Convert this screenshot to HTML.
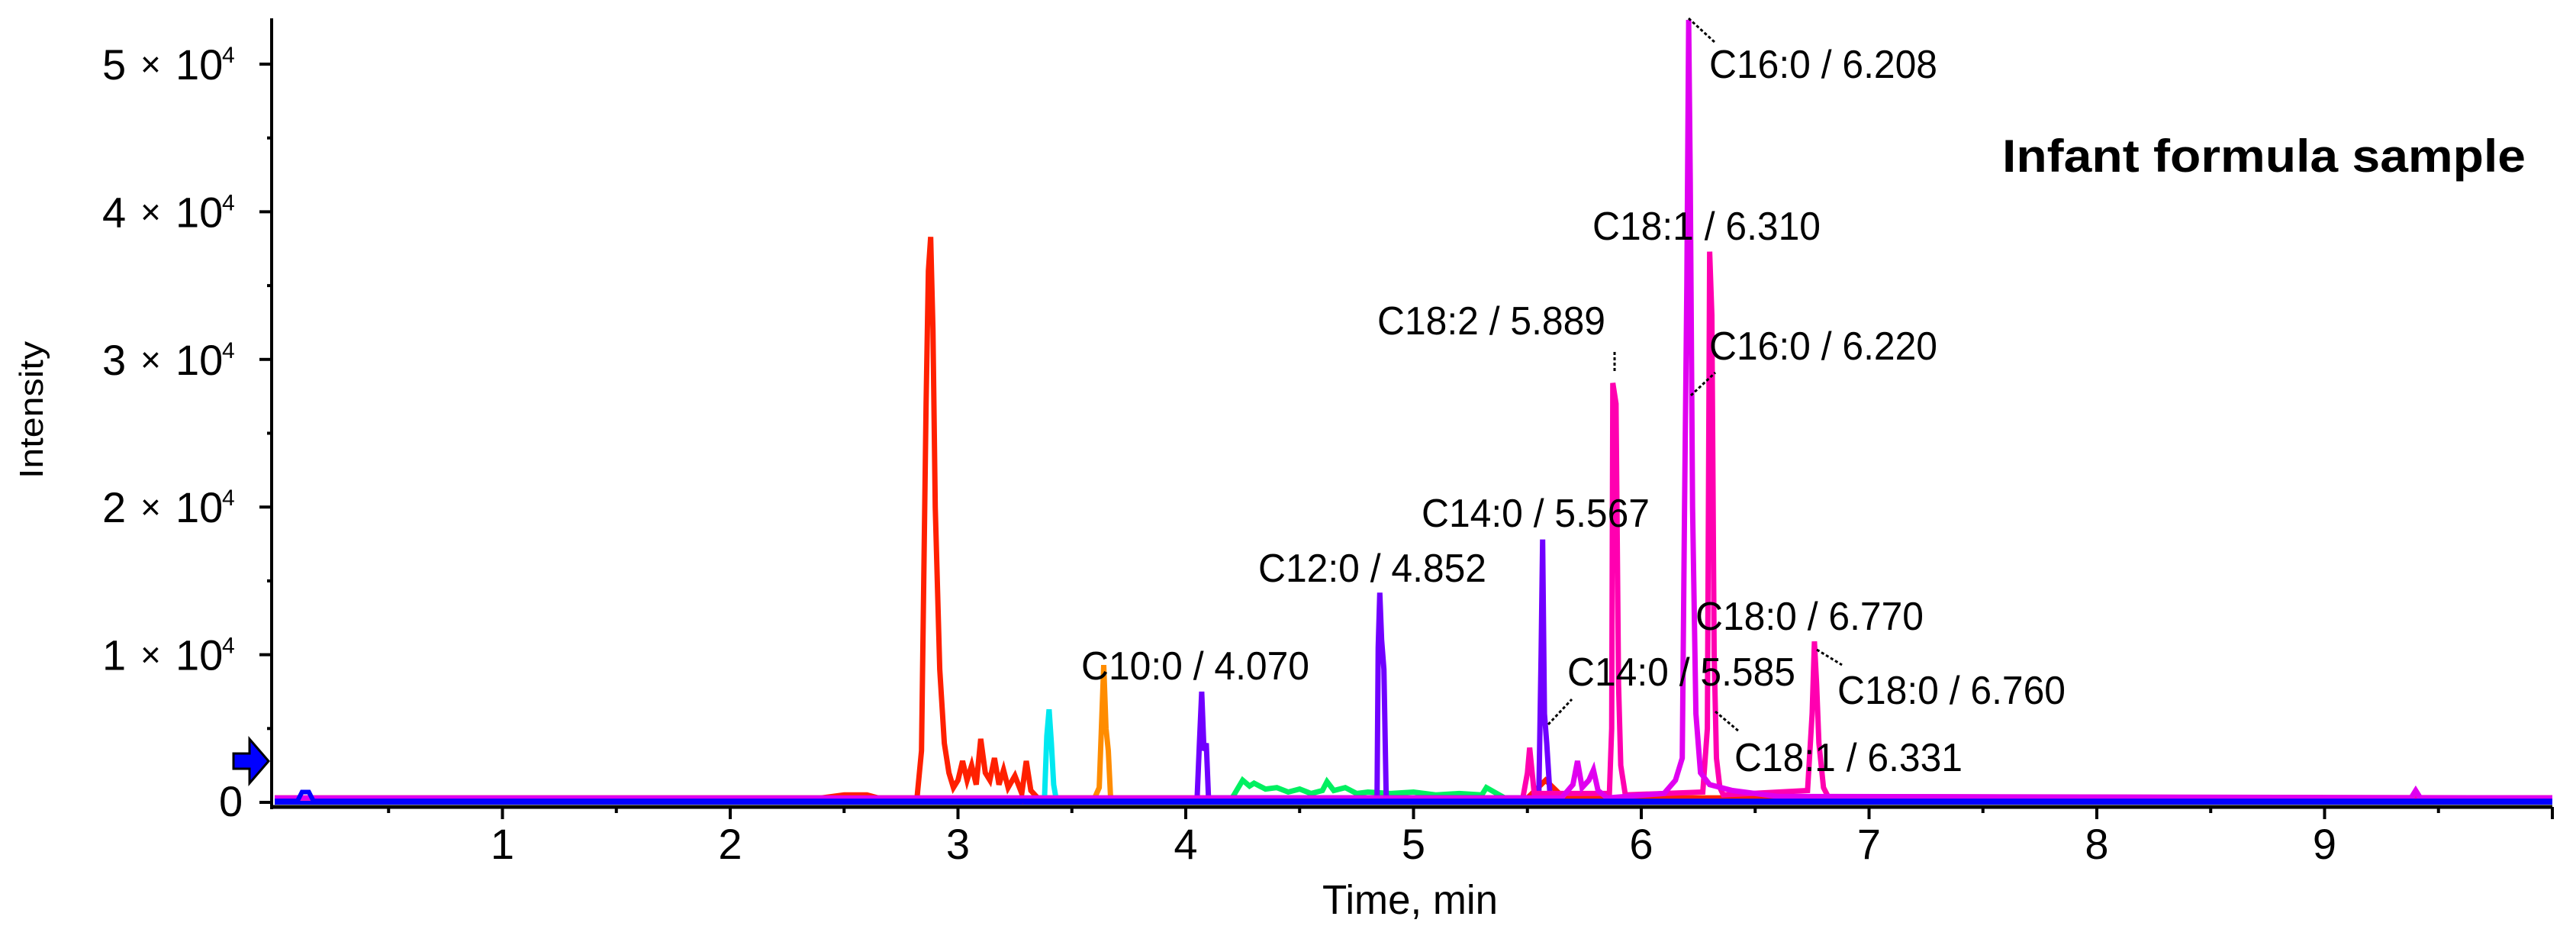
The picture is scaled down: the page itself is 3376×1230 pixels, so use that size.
<!DOCTYPE html>
<html><head><meta charset="utf-8"><style>
html,body{margin:0;padding:0;background:#fff;}
svg{display:block;}
text{font-family:"Liberation Sans",Arial,sans-serif;fill:#000;}
</style></head><body>
<svg id="chart" width="3376" height="1230" viewBox="0 0 3376 1230" xmlns="http://www.w3.org/2000/svg">
<g id="series"></g>
<g id="axes"></g>
<g id="labels"></g>
<text x="2624" y="225" font-size="60" font-weight="bold" textLength="686" lengthAdjust="spacingAndGlyphs">Infant formula sample</text>
<text x="1733" y="1197" font-size="54" textLength="230" lengthAdjust="spacingAndGlyphs">Time, min</text>
<text transform="translate(56,537) rotate(-90)" text-anchor="middle" font-size="44" textLength="180" lengthAdjust="spacingAndGlyphs">Intensity</text>
<path d="M306,987 L327,987 L327,968 L352,997 L327,1026 L327,1007 L306,1007 Z" fill="#0000ff" stroke="#000" stroke-width="3"/>
</svg>
<script>
const xTicks = [1,2,3,4,5,6,7,8,9];
const yTicks = [10000,20000,30000,40000,50000];
const yTickLabels = ["1","2","3","4","5"];
const seriesNames = ["blue","orange","green","red","cyan","purple","pink","magenta"];
const seriesColors = ["#0000ff","#ff8c00","#00f060","#ff2000","#00e8f0","#7000ff","#ff00b0","#e000f0"];
const tBlue = [0,0.1,0.12,0.15,0.17,10];
const vBlue = [100,100,700,700,100,100];
const tOrange = [0,3.6,3.62,3.64,3.65,3.66,3.67,10];
const vOrange = [300,300,1000,9300,5000,3500,300,300];
const tGreen = [4.2,4.25,4.28,4.3,4.35,4.4,4.45,4.5,4.55,4.6,4.62,4.65,4.7,4.75,4.8,4.9,5.0,5.1,5.2,5.3,5.32,5.4];
const vGreen = [200,1500,1100,1300,900,1000,700,900,600,800,1400,800,1000,600,700,600,700,500,600,500,1000,300];
const tRed = [0,2.4,2.5,2.6,2.65,2.7,2.82,2.84,2.86,2.87,2.88,2.89,2.9,2.92,2.94,2.96,2.98,3.0,3.02,3.04,3.06,3.08,3.1,3.12,3.14,3.16,3.18,3.2,3.22,3.25,3.28,3.3,3.32,3.35,3.5,5.5,5.58,5.62,5.66,10];
const vRed = [300,300,500,500,300,300,300,3500,27000,36000,38300,32000,20000,9000,4000,2000,1000,1500,2800,1500,2500,1200,4300,2000,1500,3000,1200,2200,1000,1800,600,2800,800,300,300,300,1500,900,300,300];
const tCyan = [3.38,3.39,3.40,3.41,3.42,3.43];
const vCyan = [300,4500,6300,4000,1200,300];
const tPurple = [4.05,4.06,4.07,4.08,4.09,4.1,4.84,4.845,4.852,4.86,4.87,4.88,5.55,5.56,5.567,5.575,5.585,5.6];
const vPurple = [300,4000,7500,3500,4000,300,300,10500,14200,11000,9000,300,300,10000,17800,6000,4000,300];
const tPink = [5.48,5.5,5.51,5.53,5.86,5.87,5.875,5.889,5.9,5.91,5.93,6.27,6.29,6.30,6.31,6.32,6.33,6.345,6.36,6.73,6.75,6.76,6.77,6.78,6.8,6.82,10];
const vPink = [300,2000,3700,600,600,5000,28400,27000,8000,2500,500,700,5000,37300,33000,10000,3000,1000,500,800,6000,10900,8000,4000,1000,400,300];
const tMagenta = [0,5.65,5.7,5.72,5.74,5.77,5.79,5.81,5.85,6.1,6.15,6.18,6.19,6.2,6.208,6.215,6.225,6.24,6.26,6.3,6.4,6.6,9.38,9.4,9.42,10];
const vMagenta = [300,300,1200,2800,1000,1500,2200,800,300,600,1500,3000,20000,35000,53000,42000,20000,6000,2000,1200,800,400,300,800,300,300];
const peakLabels = ["C16:0 / 6.208","C18:1 / 6.310","C16:0 / 6.220","C18:2 / 5.889","C14:0 / 5.567","C12:0 / 4.852","C10:0 / 4.070","C14:0 / 5.585","C18:0 / 6.770","C18:0 / 6.760","C18:1 / 6.331"];
const labelTimes = [6.208,6.310,6.220,5.889,5.567,4.852,4.070,5.585,6.770,6.760,6.331];
const labelIntensities = [53000,37300,28500,28400,17800,14200,7500,5200,10900,10000,6200];

const X0 = 360, XS = 298.5, Y0 = 1051, YS = 0.01934;
function x(t){ return X0 + t*XS; }
function y(v){ return Y0 - v*YS; }
const NS = "http://www.w3.org/2000/svg";
function mk(tag, attrs, parent){ const e=document.createElementNS(NS,tag); for(const k in attrs) e.setAttribute(k,attrs[k]); parent.appendChild(e); return e; }

const sg = document.getElementById('series');
const allT = [tBlue,tOrange,tGreen,tRed,tCyan,tPurple,tPink,tMagenta];
const allV = [vBlue,vOrange,vGreen,vRed,vCyan,vPurple,vPink,vMagenta];
const bl = mk('rect',{x:x(0),y:1049,width:x(10)-x(0),height:5,fill:'#0000ff'},sg);


const ob = mk('line',{x1:x(0),y1:1046,x2:x(10),y2:1046,stroke:'#ff8c00','stroke-width':4,'stroke-dasharray':'14 8'},sg);


for(let i=1;i<allT.length;i++){
  const pts = allT[i].map((t,j)=>x(t).toFixed(1)+','+Math.max(24,y(allV[i][j])).toFixed(1)).join(' ');
  const pl = mk('polyline',{points:pts,fill:'none',stroke:seriesColors[i],'stroke-width':7,'stroke-linejoin':'miter'},sg);
  
  
}
{
  const pts = tBlue.map((t,j)=>x(t).toFixed(1)+','+y(vBlue[j]).toFixed(1)).join(' ');
  const pl = mk('polyline',{points:pts,fill:'none',stroke:seriesColors[0],'stroke-width':6},sg);
  
  
}

const ax = document.getElementById('axes');
const yl = mk('line',{x1:356,y1:24,x2:356,y2:1060,stroke:'#000','stroke-width':4},ax);


const xl = mk('line',{x1:354,y1:1057,x2:x(10),y2:1057,stroke:'#000','stroke-width':5},ax);


for(let k=1;k<=20;k++){
  const t=k/2; const major = k%2===0;
  const tk = mk('line',{x1:x(t),y1:1057,x2:x(t),y2:major?1073:1065,stroke:'#000','stroke-width':4},ax);
  
  
}
xTicks.forEach(t=>{
  const tx = mk('text',{x:x(t),y:1125,'font-size':56,'text-anchor':'middle'},ax);
  tx.textContent = String(t);
  
  
});
for(let v=0; v<=50000; v+=5000){
  const major = v%10000===0;
  const tk = mk('line',{x1:major?340:350,y1:y(v),x2:356,y2:y(v),stroke:'#000','stroke-width':4},ax);
  
  
}
const z = mk('text',{x:287,y:1069,'font-size':56},ax);
z.textContent='0';


yTicks.forEach((v,i)=>{
  const g = mk('g',{},ax);
  
  
  const yy = y(v)+20;
  const a = mk('text',{x:134,y:yy,'font-size':56,fill:'#222'},g); a.textContent = yTickLabels[i];
  const b = mk('text',{x:184,y:yy-4,'font-size':46,fill:'#222'},g); b.textContent = '×';
  const c = mk('text',{x:230,y:yy,'font-size':56,fill:'#222'},g); c.textContent = '10';
  const d = mk('text',{x:291,y:yy-22,'font-size':30,fill:'#222'},g); d.textContent = '4';
});

const lg = document.getElementById('labels');
const labelPos = [[2240,102],[2087,314],[2240,471],[1805,438],[1863,690],[1649,762],[1417,890],[2054,898],[2222,825],[2408,922],[2273,1010]];
const leaders = [[2213,24,2248,56],null,[2216,518,2248,488],[2116,461,2116,486],null,null,null,[2029,949,2060,916],null,[2381,851,2414,871],[2248,932,2279,958]];
peakLabels.forEach((s,i)=>{
  const tx = mk('text',{x:labelPos[i][0],y:labelPos[i][1],'font-size':52,textLength:299,lengthAdjust:'spacingAndGlyphs'},lg);
  tx.textContent = s;
  
  
  if(leaders[i]){
    const l = leaders[i];
    const ln = mk('line',{x1:l[0],y1:l[1],x2:l[2],y2:l[3],stroke:'#000','stroke-width':3,'stroke-dasharray':'4 3'},lg);
    
    
  }
});
</script>
</body></html>
